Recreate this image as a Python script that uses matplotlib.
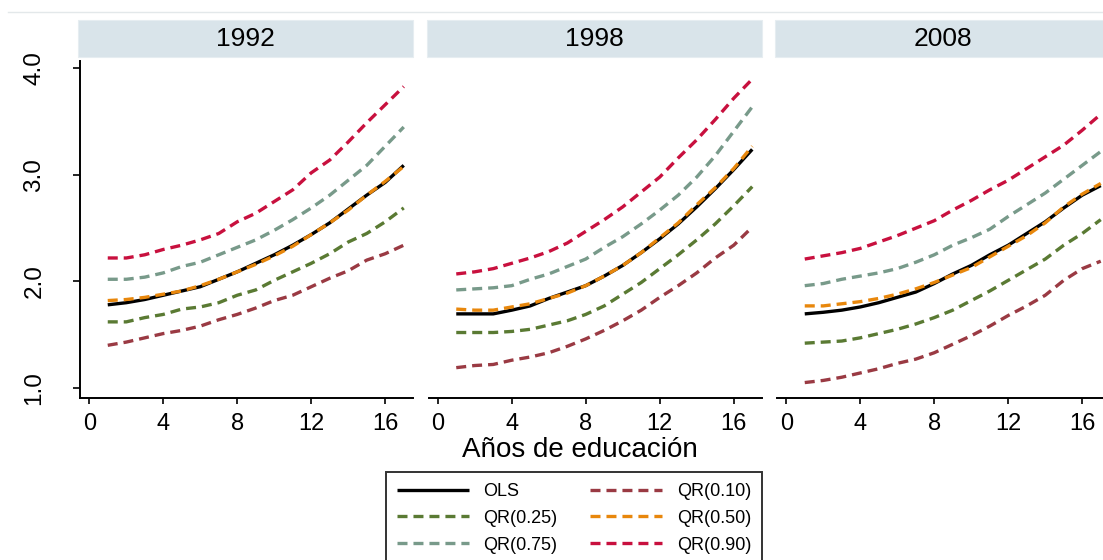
import matplotlib
matplotlib.use("Agg")
import matplotlib.pyplot as plt
from matplotlib.lines import Line2D
from matplotlib.patches import Rectangle

plt.rcParams['font.family'] = ['Liberation Sans', 'DejaVu Sans']
plt.rcParams['lines.scale_dashes'] = False

years = ["1992", "1998", "2008"]
educ = list(range(1, 18))

ols = {
    "1992": [1.78, 1.80, 1.83, 1.87, 1.91, 1.95, 2.02, 2.09, 2.17, 2.25, 2.34, 2.44, 2.55, 2.68, 2.81, 2.93, 3.09],
    "1998": [1.695, 1.695, 1.695, 1.73, 1.77, 1.84, 1.90, 1.96, 2.05, 2.15, 2.27, 2.40, 2.54, 2.70, 2.87, 3.05, 3.24],
    "2008": [1.695, 1.71, 1.73, 1.76, 1.80, 1.85, 1.90, 1.98, 2.07, 2.15, 2.25, 2.34, 2.45, 2.56, 2.69, 2.81, 2.90],
}
qr10 = {
    "1992": [1.40, 1.43, 1.47, 1.51, 1.54, 1.58, 1.64, 1.69, 1.75, 1.82, 1.87, 1.95, 2.03, 2.10, 2.20, 2.26, 2.34],
    "1998": [1.19, 1.21, 1.22, 1.26, 1.29, 1.33, 1.39, 1.46, 1.54, 1.63, 1.73, 1.85, 1.96, 2.08, 2.22, 2.34, 2.51],
    "2008": [1.05, 1.07, 1.10, 1.14, 1.18, 1.23, 1.27, 1.33, 1.41, 1.49, 1.58, 1.68, 1.77, 1.87, 2.01, 2.12, 2.19],
}
qr25 = {
    "1992": [1.62, 1.62, 1.66, 1.69, 1.74, 1.76, 1.80, 1.87, 1.92, 2.01, 2.09, 2.17, 2.26, 2.37, 2.45, 2.56, 2.69],
    "1998": [1.52, 1.52, 1.52, 1.53, 1.55, 1.59, 1.63, 1.69, 1.77, 1.88, 1.99, 2.12, 2.25, 2.39, 2.54, 2.71, 2.89],
    "2008": [1.42, 1.43, 1.44, 1.47, 1.51, 1.55, 1.60, 1.66, 1.73, 1.82, 1.91, 2.01, 2.11, 2.21, 2.34, 2.45, 2.58],
}
qr50 = {
    "1992": [1.82, 1.83, 1.85, 1.88, 1.91, 1.96, 2.02, 2.09, 2.16, 2.24, 2.33, 2.44, 2.55, 2.67, 2.81, 2.94, 3.08],
    "1998": [1.74, 1.73, 1.73, 1.76, 1.79, 1.84, 1.89, 1.96, 2.05, 2.15, 2.27, 2.41, 2.55, 2.72, 2.88, 3.06, 3.27],
    "2008": [1.77, 1.77, 1.79, 1.81, 1.84, 1.88, 1.93, 1.99, 2.06, 2.13, 2.23, 2.33, 2.43, 2.55, 2.70, 2.82, 2.92],
}
qr75 = {
    "1992": [2.02, 2.02, 2.04, 2.08, 2.14, 2.18, 2.25, 2.32, 2.39, 2.48, 2.58, 2.69, 2.81, 2.95, 3.09, 3.27, 3.45],
    "1998": [1.92, 1.93, 1.94, 1.96, 2.02, 2.07, 2.14, 2.21, 2.32, 2.42, 2.54, 2.67, 2.81, 2.98, 3.18, 3.41, 3.64],
    "2008": [1.96, 1.98, 2.02, 2.05, 2.08, 2.12, 2.18, 2.25, 2.34, 2.41, 2.49, 2.61, 2.72, 2.83, 2.96, 3.09, 3.22],
}
qr90 = {
    "1992": [2.22, 2.22, 2.25, 2.30, 2.34, 2.39, 2.45, 2.56, 2.64, 2.75, 2.86, 3.02, 3.14, 3.31, 3.49, 3.66, 3.83],
    "1998": [2.07, 2.09, 2.12, 2.17, 2.22, 2.28, 2.36, 2.47, 2.58, 2.70, 2.84, 2.98, 3.16, 3.33, 3.52, 3.72, 3.90],
    "2008": [2.21, 2.24, 2.27, 2.31, 2.37, 2.43, 2.50, 2.57, 2.67, 2.76, 2.86, 2.95, 3.06, 3.17, 3.28, 3.42, 3.57],
}

x_ticks = [0, 4, 8, 12, 16]
y_ticks = [1.0, 2.0, 3.0, 4.0]
y_ticklabels = ["1.0", "2.0", "3.0", "4.0"]
xlabel = "Años de educación"

W, H = 1103, 560
fig = plt.figure(figsize=(W / 100, H / 100), dpi=100)

dash = (0, (7.2, 4.3))
lw = 2.4
series = [
    ("OLS", ols, "#000000", "-"),
    ("QR(0.10)", qr10, "#9a3a43", dash),
    ("QR(0.25)", qr25, "#5a7a33", dash),
    ("QR(0.75)", qr75, "#789a8a", dash),
    ("QR(0.90)", qr90, "#c8103e", dash),
    ("QR(0.50)", qr50, "#e8870c", dash),
]

lefts = [80, 428.5, 777]
aw = 333
top, bottom = 61, 398
strip_top, strip_bot = 20, 57

def fx(px):
    return px / W

def fy(py):
    return 1 - py / H

# top thin line
fig.add_artist(Line2D([fx(8), 1], [fy(12), fy(12)], color="#e3e8ea", lw=1.0))

axes = []
for i, yr in enumerate(years):
    l = lefts[i]
    ax = fig.add_axes([fx(l), fy(bottom), aw / W, (bottom - top) / H])
    axes.append(ax)
    for name, d, c, ls in series:
        ax.plot(educ, d[yr], color=c, lw=lw, linestyle=ls, solid_capstyle="butt",
                dash_capstyle="butt")
    ax.set_xlim(-0.5, 17.5)
    ax.set_ylim(0.905, 4.07)
    ax.set_xticks(x_ticks)
    ax.set_xticklabels([str(t) for t in x_ticks])
    ax.tick_params(axis="x", direction="out", length=4, width=1.2, labelsize=17, pad=7)
    for s in ["top", "right"]:
        ax.spines[s].set_visible(False)
    ax.spines["bottom"].set_linewidth(1.4)
    if i == 0:
        ax.set_yticks(y_ticks)
        ax.set_yticklabels(y_ticklabels, rotation=90, va="center")
        ax.tick_params(axis="y", direction="out", length=5, width=1.2, labelsize=17.5, pad=20)
        ax.spines["left"].set_linewidth(1.4)
    else:
        ax.spines["left"].set_visible(False)
        ax.set_yticks([])
    # strip
    sx0 = l - 2
    fig.add_artist(Rectangle((fx(sx0), fy(strip_bot)), (aw + 2) / W, (strip_bot - strip_top) / H,
                             facecolor="#d9e4ea", edgecolor="#e6edf1", lw=0.8))
    fig.text(fx(sx0 + (aw + 2) / 2), fy((strip_top + strip_bot) / 2 + 1), yr,
             ha="center", va="center", fontsize=19)

fig.text(fx(580), fy(450), xlabel, ha="center", va="center", fontsize=20)

order = ["OLS", "QR(0.25)", "QR(0.75)", "QR(0.10)", "QR(0.50)", "QR(0.90)"]
lookup = {n: (c, ls) for n, d, c, ls in series}
handles = [Line2D([0], [0], color=lookup[n][0], lw=lw, linestyle=lookup[n][1],
                  solid_capstyle="butt", dash_capstyle="butt") for n in order]
leg = fig.legend(handles, order, ncol=2, loc="upper center",
                 bbox_to_anchor=(fx(574), fy(472)), fontsize=13,
                 frameon=True, fancybox=False, edgecolor="black",
                 handlelength=4.0, handletextpad=0.8, columnspacing=1.8,
                 labelspacing=0.55, borderpad=0.6, borderaxespad=0)
leg.get_frame().set_linewidth(1.4)

fig.savefig("out.png", dpi=100)
